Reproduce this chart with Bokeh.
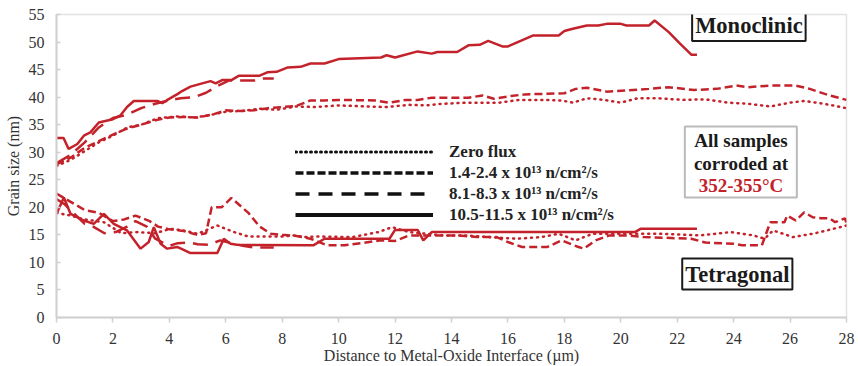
from bokeh.plotting import figure
from bokeh.models import Range1d, Legend, LegendItem, Label, BoxAnnotation
from bokeh.embed import file_html
from bokeh.resources import INLINE

RED = "#c4222b"

# ---- data (µm, nm) ----
mono_solid_x = [0, 0.25, 0.43, 0.74, 0.97, 1.2, 1.5, 2.0, 2.27, 2.5, 2.74, 3.57, 3.75, 3.9, 4.3, 4.45, 4.75, 5.1, 5.46, 5.64, 5.87, 6.2, 6.47, 7.2, 7.47, 7.8, 8.2, 8.65, 9.0, 9.5, 10.0, 11.5, 11.7, 12.0, 12.8, 13.3, 13.5, 14.2, 14.6, 15.0, 15.3, 15.8, 16.0, 16.9, 17.8, 18.0, 18.3, 18.8, 19.2, 19.5, 20.0, 20.2, 21.0, 21.2, 21.7, 22.1, 22.5, 22.7]
mono_solid_y = [32.6, 32.6, 30.6, 31.5, 33.0, 33.6, 35.4, 36.0, 36.7, 38.2, 39.3, 39.3, 38.9, 39.4, 40.6, 41.1, 41.9, 42.4, 42.9, 42.5, 43.1, 43.1, 43.9, 43.9, 44.5, 44.6, 45.4, 45.5, 46.1, 46.1, 46.9, 47.2, 47.6, 47.2, 48.3, 47.9, 48.2, 48.2, 49.4, 49.5, 50.2, 49.2, 49.2, 51.2, 51.2, 52.0, 52.4, 53.0, 53.0, 53.3, 53.3, 53.0, 53.0, 53.9, 51.8, 49.7, 47.7, 47.7]

mono_long_x = [0, 0.5, 1.0, 1.5, 2.0, 2.5, 3.0, 3.5, 3.9, 4.4, 4.9, 5.3, 5.7, 6.1, 6.6, 7.0, 7.3, 7.7]
mono_long_y = [28.0, 29.5, 31.8, 34.5, 36.2, 36.8, 38.0, 38.8, 39.3, 39.8, 40.0, 40.8, 42.0, 43.0, 43.0, 43.0, 43.4, 43.4]

mono_short_x = [0, 0.5, 1.0, 1.5, 2.0, 2.5, 3.0, 3.5, 4.0, 4.5, 5.0, 5.5, 6.0, 6.5, 7.0, 7.5, 8.0, 8.5, 9.0, 9.5, 10.0, 11.3, 11.8, 12.4, 12.8, 13.3, 14.2, 14.6, 15.1, 15.5, 16.1, 16.6, 17.3, 18.0, 18.4, 18.8, 19.5, 20.2, 21.0, 21.7, 22.6, 23.4, 24.1, 24.5, 25.3, 26.2, 26.7, 27.4, 28.0]
mono_short_y = [27.8, 29.0, 30.8, 32.0, 33.2, 34.3, 35.0, 35.8, 36.3, 36.4, 36.3, 36.8, 37.6, 37.5, 37.6, 38.0, 38.2, 38.4, 39.4, 39.4, 39.5, 39.4, 39.0, 39.5, 39.5, 39.9, 39.9, 39.9, 40.3, 39.7, 40.2, 40.5, 40.6, 40.7, 41.5, 41.7, 41.0, 41.2, 41.5, 41.8, 41.3, 41.5, 42.1, 41.8, 42.1, 42.1, 41.5, 40.3, 39.5]

mono_dot_x = [0, 0.5, 1.0, 1.5, 2.0, 2.5, 3.0, 3.6, 4.3, 4.9, 5.5, 6.05, 6.6, 7.2, 7.8, 8.5, 9.2, 10.0, 11.0, 11.7, 12.5, 13.1, 13.7, 14.6, 15.2, 15.7, 16.4, 17.2, 17.9, 18.3, 18.8, 19.4, 20.0, 20.6, 21.3, 22.2, 23.0, 23.8, 24.5, 25.3, 26.0, 26.5, 27.2, 28.0]
mono_dot_y = [27.5, 28.6, 30.2, 31.8, 33.0, 34.5, 35.0, 36.2, 36.5, 36.3, 36.8, 37.4, 37.5, 37.9, 37.7, 38.3, 38.2, 38.5, 38.3, 38.2, 38.6, 38.5, 38.8, 39.0, 39.0, 39.0, 39.5, 39.5, 39.4, 39.0, 39.8, 39.5, 39.0, 39.8, 39.8, 39.5, 39.6, 39.0, 38.8, 38.3, 39.0, 39.3, 38.8, 38.0]

tet_solid_x = [0, 0.26, 0.5, 0.97, 1.32, 1.68, 2.03, 2.5, 2.98, 3.27, 3.45, 3.69, 3.92, 4.28, 4.75, 5.7, 5.93, 6.17, 6.4, 9.1, 9.5, 11.8, 12.0, 12.8, 13.0, 13.3, 20.5, 20.7, 22.7]
tet_solid_y = [18.8, 21.8, 18.8, 17.6, 17.0, 18.8, 17.0, 15.8, 12.5, 13.7, 16.4, 13.4, 12.5, 12.8, 11.7, 11.7, 14.3, 13.4, 13.2, 13.1, 14.3, 14.3, 15.9, 15.9, 14.0, 15.5, 15.5, 16.1, 16.1]

tet_short_x = [0, 0.5, 1.0, 1.5, 2.0, 2.4, 2.8, 3.3, 3.6, 4.0, 4.5, 5.0, 5.3, 5.5, 5.85, 6.2, 6.8, 7.2, 7.6, 8.0, 8.5, 9.0, 9.6, 10.2, 10.8, 11.5, 12.0, 12.5, 12.8, 13.5, 14.2, 14.9, 15.6, 16.0, 16.5, 17.4, 17.9, 18.5, 18.7, 19.1, 19.6, 20.2, 20.8, 22.5, 23.0, 24.0, 24.3, 25.0, 25.3, 25.8, 25.9, 26.2, 26.5, 26.8, 27.1, 27.4, 27.6, 27.95, 28.0]
tet_short_y = [22.5, 21.0, 19.5, 19.0, 17.5, 17.8, 18.5, 17.5, 16.5, 16.0, 15.7, 15.0, 15.3, 20.0, 20.0, 21.7, 19.0, 16.5, 15.2, 15.0, 14.8, 14.3, 13.1, 13.1, 13.5, 14.0, 13.9, 14.9, 14.9, 14.9, 14.9, 14.6, 14.6, 13.7, 12.8, 12.8, 14.0, 12.8, 12.5, 14.0, 14.9, 14.9, 14.6, 14.3, 13.6, 13.4, 13.1, 13.1, 17.3, 17.3, 18.5, 17.6, 19.1, 18.2, 18.0, 18.0, 17.3, 18.0, 17.0]

tet_long_x = [0, 0.3, 0.7, 1.0, 1.3, 1.7, 2.1, 2.5, 2.8, 3.2, 3.5, 4.0, 4.3, 4.7, 5.0, 5.4, 5.8, 6.2, 6.6, 7.0, 7.7]
tet_long_y = [21.5, 20.5, 18.5, 17.0, 16.5, 15.3, 15.5, 16.5, 17.5, 16.5, 14.3, 13.0, 13.5, 13.6, 13.3, 13.2, 14.0, 13.5, 13.0, 12.7, 12.7]

tet_dot_x = [0, 0.5, 1.0, 1.68, 2.3, 2.86, 3.5, 4.04, 4.5, 5.0, 5.7, 6.3, 6.8, 7.5, 8.05, 8.4, 8.8, 9.24, 10.5, 11.4, 11.9, 12.5, 13.7, 14.5, 15.3, 16.3, 17.2, 17.8, 18.4, 19.0, 19.6, 21.4, 22.8, 23.9, 24.7, 25.1, 25.4, 26.1, 26.8, 27.3, 28.0]
tet_dot_y = [19.0, 18.5, 17.8, 17.3, 15.3, 15.5, 15.3, 16.1, 15.8, 15.2, 16.7, 15.5, 14.7, 14.7, 14.7, 14.9, 14.6, 14.7, 14.6, 15.5, 16.4, 15.5, 14.9, 14.9, 14.6, 14.3, 14.6, 15.2, 14.0, 15.2, 15.2, 15.2, 14.9, 15.5, 14.9, 14.3, 15.8, 14.6, 15.2, 15.8, 16.7]

x_ticks = list(range(0, 29, 2))
y_ticks = list(range(0, 56, 5))

legend_labels = ["Zero flux",
                 "1.4-2.4 x 10\u00b9\u00b3 n/cm\u00b2/s",
                 "8.1-8.3 x 10\u00b9\u00b3 n/cm\u00b2/s",
                 "10.5-11.5 x 10\u00b9\u00b3 n/cm\u00b2/s"]

SERIF = "Liberation Serif"

p = figure(width=858, height=366, output_backend="svg", toolbar_location=None,
           x_range=Range1d(0, 28), y_range=Range1d(0, 55),
           min_border_left=56, min_border_right=12, min_border_top=14, min_border_bottom=49)
p.background_fill_color = "white"
p.border_fill_color = "white"
p.outline_line_color = "#e2e2e2"
p.outline_line_width = 1.5
p.xgrid.visible = False
p.ygrid.visible = False

for ax in (p.xaxis[0], p.yaxis[0]):
    ax.axis_line_color = "#d0d0d0"
    ax.axis_line_width = 2
    ax.major_tick_line_color = "#d0d0d0"
    ax.major_tick_line_width = 1.5
    ax.minor_tick_line_color = None
    ax.major_label_text_font = SERIF
    ax.major_label_text_font_size = "16px"
    ax.major_label_text_color = "#333333"
    ax.axis_label_text_font = SERIF
    ax.axis_label_text_font_size = "16px"
    ax.axis_label_text_font_style = "normal"
    ax.axis_label_text_color = "#333333"

p.xaxis.ticker = x_ticks
p.yaxis.ticker = y_ticks
p.xaxis.major_tick_out = 5
p.xaxis.major_tick_in = 0
p.yaxis.major_tick_out = 0
p.yaxis.major_tick_in = 4
p.xaxis.major_label_standoff = 10
p.yaxis.major_label_standoff = 12
p.xaxis.axis_label = "Distance to Metal-Oxide Interface (\u00b5m)"
p.yaxis.axis_label = "Grain size (nm)"
p.xaxis.axis_label_standoff = 0
p.yaxis.axis_label_standoff = 4

W = 2.5
DOT = dict(line_dash="1 5", line_cap="round")
SHORT = dict(line_dash="8 4")
LONG = dict(line_dash="15 8")

p.line(mono_dot_x, mono_dot_y, color=RED, line_width=W, **DOT)
p.line(mono_short_x, mono_short_y, color=RED, line_width=W, **SHORT)
p.line(mono_long_x, mono_long_y, color=RED, line_width=W, **LONG)
p.line(mono_solid_x, mono_solid_y, color=RED, line_width=W)

p.line(tet_dot_x, tet_dot_y, color=RED, line_width=W, **DOT)
p.line(tet_short_x, tet_short_y, color=RED, line_width=W, **SHORT)
p.line(tet_long_x, tet_long_y, color=RED, line_width=W, **LONG)
p.line(tet_solid_x, tet_solid_y, color=RED, line_width=W)

# legend (black sample lines); renderers hold off-range points only
off_x = [-10, -9]
off_y = [-10, -10]
r0 = p.line(off_x, off_y, color="#111111", line_width=3, line_dash="1 4", line_cap="round")
r1 = p.line(off_x, off_y, color="#111111", line_width=3.5, line_dash="8 3")
r2 = p.line(off_x, off_y, color="#111111", line_width=3.5, line_dash="14 9")
r3 = p.line(off_x, off_y, color="#111111", line_width=4)
legend = Legend(items=[LegendItem(label=legend_labels[i], renderers=[r]) for i, r in enumerate([r0, r1, r2, r3])],
                location=(239, 92), orientation="vertical")
legend.glyph_width = 138
legend.glyph_height = 21
legend.label_height = 21
legend.label_standoff = 16
legend.spacing = 0
legend.padding = 0
legend.margin = 0
legend.border_line_color = None
legend.background_fill_alpha = 0
legend.label_text_font = SERIF
legend.label_text_font_style = "bold"
legend.label_text_font_size = "17px"
legend.label_text_color = "#222222"
p.add_layout(legend, "center")

# annotation boxes
mono = Label(x=24.54, y=52.99, text="Monoclinic", text_align="center", text_baseline="middle",
             text_font=SERIF, text_font_style="bold", text_font_size="22.5px", text_color="#1a1a1a",
             border_line_color="#1a1a1a", border_line_width=2, background_fill_color="white", padding=3)
p.add_layout(mono)
tet = Label(x=24.13, y=7.89, text="Tetragonal", text_align="center", text_baseline="middle",
            text_font=SERIF, text_font_style="bold", text_font_size="22.5px", text_color="#1a1a1a",
            border_line_color="#1a1a1a", border_line_width=2, background_fill_color="white", padding=3)
p.add_layout(tet)

box = BoxAnnotation(left=22.27, right=26.24, top=34.66, bottom=21.78,
                    fill_color="white", fill_alpha=1, line_color="#1a1a1a", line_width=2)
p.add_layout(box)
for txt, yy, col in [("All samples", 32.12, "#1a1a1a"), ("corroded at", 28.0, "#1a1a1a"),
                     ("352-355\u00b0C", 23.96, RED)]:
    p.add_layout(Label(x=24.26, y=yy, text=txt, text_align="center", text_baseline="middle",
                       text_font=SERIF, text_font_style="bold", text_font_size="19px", text_color=col))

open("out.html", "w").write(file_html(p, INLINE))
